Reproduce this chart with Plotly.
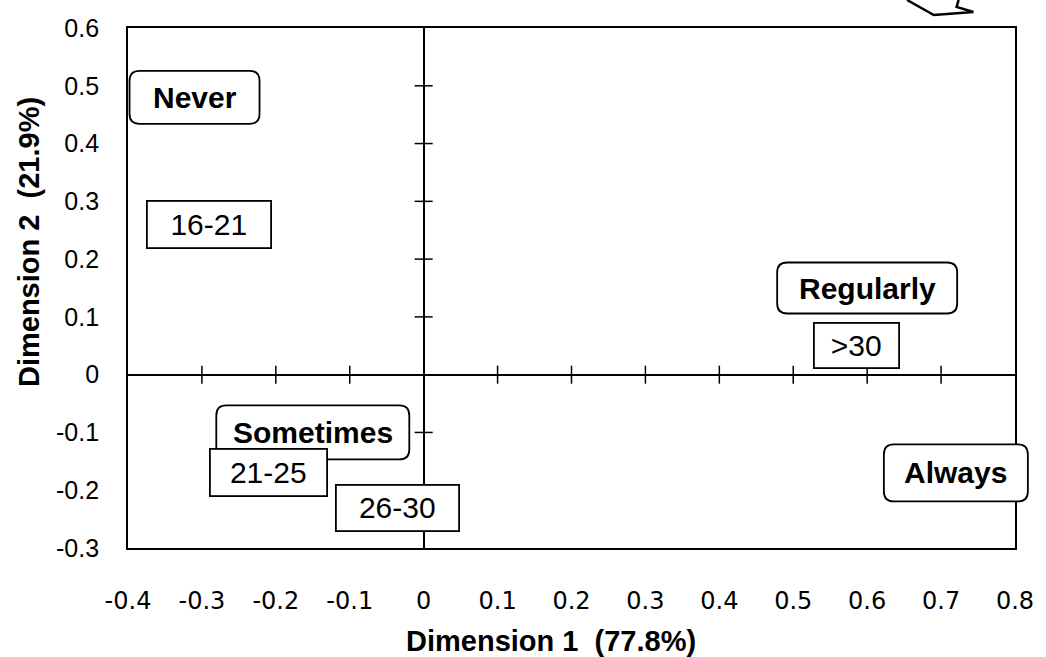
import plotly.graph_objects as go

# Correspondence analysis: frequency categories and age groups on the first two dimensions
freq_labels = ["Never", "Sometimes", "Regularly", "Always"]
freq_dim1 = [-0.31, -0.15, 0.60, 0.72]
freq_dim2 = [0.48, -0.10, 0.15, -0.17]

age_labels = ["16-21", "21-25", "26-30", ">30"]
age_dim1 = [-0.29, -0.21, -0.035, 0.585]
age_dim2 = [0.26, -0.17, -0.23, 0.05]

x_ticks = [-0.4, -0.3, -0.2, -0.1, 0, 0.1, 0.2, 0.3, 0.4, 0.5, 0.6, 0.7, 0.8]
x_tick_text = ["-0.4", "-0.3", "-0.2", "-0.1", "0", "0.1", "0.2", "0.3", "0.4", "0.5", "0.6", "0.7", "0.8"]
y_ticks = [-0.3, -0.2, -0.1, 0, 0.1, 0.2, 0.3, 0.4, 0.5, 0.6]
y_tick_text = ["-0.3", "-0.2", "-0.1", "0", "0.1", "0.2", "0.3", "0.4", "0.5", "0.6"]

x_title = "Dimension 1  (77.8%)"
y_title = "Dimension 2  (21.9%)"

X_RANGE = [x_ticks[0], x_ticks[-1]]
Y_RANGE = [y_ticks[0], y_ticks[-1]]

# Label box sizes in pixels (width, height)
freq_box = {"Never": (130, 53), "Sometimes": (193, 54), "Regularly": (180, 51), "Always": (144, 57)}
age_box = {"16-21": (124, 47), "21-25": (117, 47), "26-30": (123, 46), ">30": (85, 45)}

ARIAL = "Liberation Sans, Arial, sans-serif"
LABEL_SIZE = 30

# plot-area geometry in pixels
FIG_W, FIG_H = 1046, 657
M_L, M_R, M_T, M_B = 128, 22, 28, 109
PLOT_W = FIG_W - M_L - M_R
PLOT_H = FIG_H - M_T - M_B


def to_paper_x(v):
    return (v - X_RANGE[0]) / (X_RANGE[1] - X_RANGE[0])


def to_paper_y(v):
    return (v - Y_RANGE[0]) / (Y_RANGE[1] - Y_RANGE[0])


def rounded_rect(w, h, r):
    a, b = w / 2, h / 2
    return (f"M {-a + r},{-b} L {a - r},{-b} Q {a},{-b} {a},{-b + r} "
            f"L {a},{b - r} Q {a},{b} {a - r},{b} L {-a + r},{b} "
            f"Q {-a},{b} {-a},{b - r} L {-a},{-b + r} Q {-a},{-b} {-a + r},{-b} Z")


fig = go.Figure()
fig.add_trace(go.Scatter(x=freq_dim1 + age_dim1, y=freq_dim2 + age_dim2,
                         mode="markers", marker=dict(opacity=0), hoverinfo="skip"))

shapes = []
# small crosses along the zero lines
for t in x_ticks:
    if t in (0, x_ticks[0], x_ticks[-1]):
        continue
    shapes.append(dict(type="line", xref="x", yref="y", ysizemode="pixel", yanchor=0,
                       x0=t, x1=t, y0=-9, y1=9, line=dict(color="black", width=1.5)))
for t in y_ticks:
    if t in (0, y_ticks[0], y_ticks[-1]):
        continue
    shapes.append(dict(type="line", xref="x", yref="y", xsizemode="pixel", xanchor=0,
                       y0=t, y1=t, x0=-9, x1=9, line=dict(color="black", width=1.5)))

# rounded boxes for the frequency categories (paper-anchored so they may overhang the frame)
for lab, x, y in zip(freq_labels, freq_dim1, freq_dim2):
    w, h = freq_box[lab]
    shapes.append(dict(type="path", xref="paper", yref="paper", xsizemode="pixel", ysizemode="pixel",
                       xanchor=to_paper_x(x), yanchor=to_paper_y(y), path=rounded_rect(w, h, 10),
                       fillcolor="white", line=dict(color="black", width=1.8), layer="above"))

# callout arrow fragment in the top-right corner
shapes.append(dict(type="path", xref="paper", yref="paper",
                   path="M 0.8783,1.0538 L 0.9085,1.025 L 0.9531,1.0308 L 0.9342,1.0404 L 0.9364,1.0538",
                   line=dict(color="black", width=2.5)))

annotations = []
for lab, x, y in zip(freq_labels, freq_dim1, freq_dim2):
    annotations.append(dict(x=x, y=y, xref="x", yref="y", text=lab, showarrow=False,
                            font=dict(family=ARIAL, size=LABEL_SIZE, color="black", weight="bold"),
                            xanchor="center", yanchor="middle"))
for lab, x, y in zip(age_labels, age_dim1, age_dim2):
    w, h = age_box[lab]
    annotations.append(dict(x=x, y=y, xref="x", yref="y", text=lab, showarrow=False,
                            font=dict(family=ARIAL, size=LABEL_SIZE, color="black"),
                            xanchor="center", yanchor="middle", width=w - 2, height=h - 2,
                            bgcolor="white", bordercolor="black", borderwidth=1.8, borderpad=0))

# axis titles
annotations.append(dict(x=(555 - M_L) / PLOT_W, y=(FIG_H - M_B - 641) / PLOT_H,
                        xref="paper", yref="paper", xanchor="center", yanchor="middle",
                        showarrow=False, text=x_title,
                        font=dict(family=ARIAL, size=29, color="black", weight="bold")))
annotations.append(dict(x=(28 - M_L) / PLOT_W, y=(FIG_H - M_B - 242) / PLOT_H,
                        xref="paper", yref="paper", xanchor="center", yanchor="middle",
                        showarrow=False, text=y_title, textangle=-90,
                        font=dict(family=ARIAL, size=29, color="black", weight="bold")))

fig.update_layout(
    width=FIG_W, height=FIG_H,
    margin=dict(l=M_L, r=M_R, t=M_T, b=M_B),
    plot_bgcolor="white", paper_bgcolor="white",
    showlegend=False,
    shapes=shapes,
    annotations=annotations,
    xaxis=dict(range=X_RANGE, tickvals=x_ticks, ticktext=x_tick_text,
               showgrid=False, zeroline=True, zerolinecolor="black", zerolinewidth=1.5,
               showline=True, linecolor="black", linewidth=1.8, mirror=True,
               ticks="outside", ticklen=0, ticklabelstandoff=30,
               tickfont=dict(family="DejaVu Sans", size=24, color="black")),
    yaxis=dict(range=Y_RANGE, tickvals=y_ticks, ticktext=y_tick_text,
               showgrid=False, zeroline=True, zerolinecolor="black", zerolinewidth=1.5,
               showline=True, linecolor="black", linewidth=1.8, mirror=True,
               ticks="outside", ticklen=0, ticklabelstandoff=22,
               tickfont=dict(family=ARIAL, size=25, color="black")),
)

fig.write_html("out.html")
